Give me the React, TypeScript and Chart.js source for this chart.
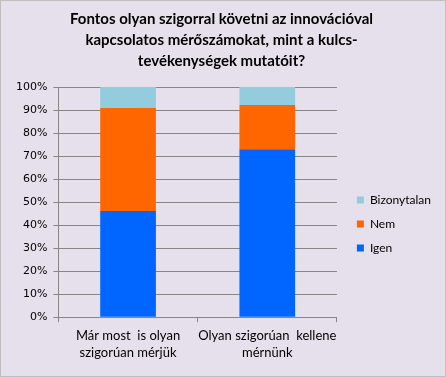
import React, { useEffect, useRef } from "react";
import { Chart, registerables } from "chart.js";

Chart.register(...registerables);

const categories: string[][] = [
  ["Már most  is olyan", "szigorúan mérjük"],
  ["Olyan szigorúan  kellene", "mérnünk"],
];
const igen = [46.1, 73.0];
const nem = [44.8, 19.2];
const bizonytalan = [9.1, 7.8];
const titleLines = [
  "Fontos olyan szigorral követni az innovációval",
  "kapcsolatos mérőszámokat, mint a kulcs-",
  "tevékenységek mutatóit?",
];

const bgPlugin = {
  id: "bg",
  beforeDraw(chart: any) {
    const { ctx, width, height } = chart;
    ctx.save();
    ctx.fillStyle = "#E6E0EC";
    ctx.fillRect(0, 0, width, height);
    ctx.strokeStyle = "#BFBFBF";
    ctx.lineWidth = 1;
    ctx.strokeRect(0.5, 0.5, width - 1, height - 1);
    ctx.restore();
  },
};

const legendShift = {
  id: "legendShift",
  afterLayout(chart: any) {
    if (chart.legend) {
      chart.legend.left += 8;
      chart.legend.right += 8;
    }
  },
};

export default function App() {
  const ref = useRef<HTMLCanvasElement>(null);
  useEffect(() => {
    const chart = new Chart(ref.current!, {
      type: "bar",
      data: {
        labels: categories,
        datasets: [
          { label: "Igen", data: igen, backgroundColor: "#0066FF", barPercentage: 0.4, categoryPercentage: 1 },
          { label: "Nem", data: nem, backgroundColor: "#FF6600", barPercentage: 0.4, categoryPercentage: 1 },
          { label: "Bizonytalan", data: bizonytalan, backgroundColor: "#93CDDD", barPercentage: 0.4, categoryPercentage: 1 },
        ],
      },
      options: {
        animation: false,
        responsive: false,
        devicePixelRatio: 1,
        layout: { padding: { left: 10, right: 13, top: 2, bottom: 11 } },
        plugins: {
          title: {
            display: true,
            text: titleLines,
            color: "#000",
            font: { family: "Lato", size: 15, weight: "bold", lineHeight: 1.4 },
            padding: { top: 7, bottom: 15 },
          },
          legend: {
            position: "right",
            reverse: true,
            title: {
              display: true,
              text: " ",
              font: { size: 40, lineHeight: 2 },
              padding: 0,
            },
            labels: {
              boxWidth: 7,
              boxHeight: 7,
              padding: 12,
              color: "#000",
              font: { family: "Lato", size: 12 },
            },
          },
          tooltip: { enabled: false },
        },
        scales: {
          x: {
            stacked: true,
            grid: { display: true, drawOnChartArea: false, offset: true, tickLength: 5, color: "#868686" },
            border: { color: "#868686", width: 1 },
            ticks: {
              color: "#000",
              font: { family: "Lato", size: 13, lineHeight: 1.3 },
              padding: 5,
              maxRotation: 0,
              minRotation: 0,
              autoSkip: false,
            },
          },
          y: {
            stacked: true,
            min: 0,
            max: 100,
            grid: { color: "#868686", tickLength: 5 },
            border: { color: "#868686" },
            ticks: {
              stepSize: 10,
              color: "#000",
              font: { family: "DejaVu Sans", size: 11 },
              padding: 6,
              callback: (v: any) => v + "%",
            },
          },
        },
      },
      plugins: [bgPlugin, legendShift],
    });
    return () => chart.destroy();
  }, []);
  return (
    <div style={{ position: "absolute", left: 0, top: 0 }}>
      <canvas ref={ref} width={446} height={377} />
    </div>
  );
}
